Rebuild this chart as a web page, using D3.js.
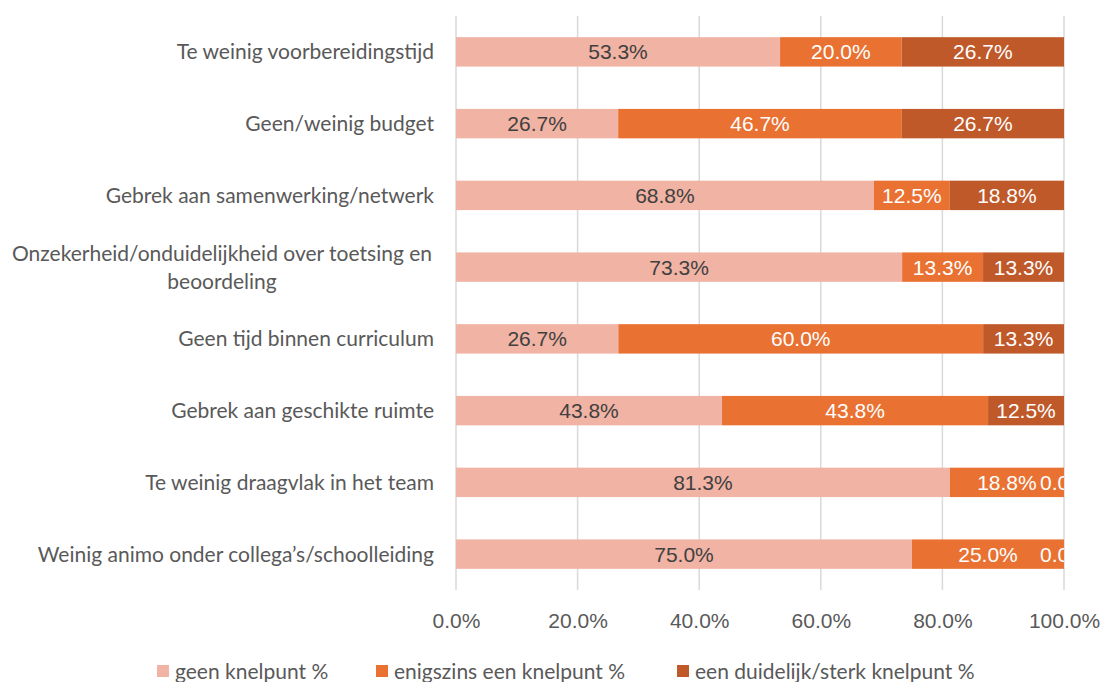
<!DOCTYPE html>
<html><head><meta charset="utf-8">
<script src="https://cdn.jsdelivr.net/npm/d3@7"></script>
<style>body{margin:0;background:#fff}svg{display:block}</style>
</head><body>
<svg id="c" width="1102" height="682"></svg>
<script>
const categories = [
  ["Te weinig voorbereidingstijd"],
  ["Geen/weinig budget"],
  ["Gebrek aan samenwerking/netwerk"],
  ["Onzekerheid/onduidelijkheid over toetsing en", "beoordeling"],
  ["Geen tijd binnen curriculum"],
  ["Gebrek aan geschikte ruimte"],
  ["Te weinig draagvlak in het team"],
  ["Weinig animo onder collega\u2019s/schoolleiding"]
];
const seriesNames = ["geen knelpunt %", "enigszins een knelpunt %", "een duidelijk/sterk knelpunt %"];
const geen      = [53.3, 26.7, 68.8, 73.3, 26.7, 43.8, 81.3, 75.0];
const enigszins = [20.0, 46.7, 12.5, 13.3, 60.0, 43.8, 18.8, 25.0];
const sterk     = [26.7, 26.7, 18.8, 13.3, 13.3, 12.5, 0.0, 0.0];
const tickValues = [0, 20, 40, 60, 80, 100];

const colors = ["#F1B3A4", "#E97132", "#C0592A"];
const labelColors = ["#404040", "#ffffff", "#ffffff"];
const font = "'Liberation Sans', Arial, sans-serif";
const catFont = "Lato, 'Open Sans', sans-serif";
const fs = 21;

const svg = d3.select("#c");
const margin = {left: 456, right: 38, top: 16, bottom: 92};
const W = 1102, H = 682;
const x = d3.scaleLinear().domain([0, 100]).range([margin.left, W - margin.right]);
const y = d3.scaleBand().domain(d3.range(categories.length)).range([margin.top, H - margin.bottom]).paddingInner(0.59).paddingOuter(0.295);

// gridlines
svg.append("g").selectAll("line").data(tickValues).join("line")
  .attr("x1", d => x(d)).attr("x2", d => x(d))
  .attr("y1", margin.top).attr("y2", H - margin.bottom)
  .attr("stroke", "#d9d9d9").attr("stroke-width", 1.5);

// x tick labels
const xAxis = d3.axisBottom(x).tickValues(tickValues).tickFormat(d => d.toFixed(1) + "%").tickSize(0).tickPadding(0);
const gx = svg.append("g").attr("transform", `translate(0,${H - margin.bottom + 30})`).call(xAxis);
gx.select(".domain").remove();
gx.selectAll("text").attr("font-family", font).attr("font-size", fs).attr("fill", "#595959").attr("y", 0).attr("dy", "0.36em");

// data rows
const rows = categories.map((c, i) => {
  const vals = [geen[i], enigszins[i], sterk[i]];
  const sum = d3.sum(vals);
  let acc = 0;
  return vals.map((v, k) => { const s = acc; acc += v; return {i, k, v, x0: s / sum * 100, x1: acc / sum * 100}; });
}).flat();

svg.append("defs").append("clipPath").attr("id", "plotclip")
  .append("rect").attr("x", margin.left).attr("y", 0).attr("width", x(100) - margin.left).attr("height", H);

svg.append("g").selectAll("rect").data(rows).join("rect")
  .attr("x", d => x(d.x0)).attr("width", d => x(d.x1) - x(d.x0))
  .attr("y", d => y(d.i)).attr("height", y.bandwidth())
  .attr("fill", d => colors[d.k]);

svg.append("g").attr("clip-path", "url(#plotclip)").selectAll("text").data(rows).join("text")
  .attr("x", d => (x(d.x0) + x(d.x1)) / 2)
  .attr("y", d => y(d.i) + y.bandwidth() / 2)
  .attr("dy", "0.36em").attr("text-anchor", "middle")
  .attr("font-family", font).attr("font-size", fs)
  .attr("fill", d => labelColors[d.k])
  .text(d => d.v.toFixed(1) + "%");

// category labels
const cg = svg.append("g");
categories.forEach((lines, i) => {
  const cy = y(i) + y.bandwidth() / 2;
  const t = cg.append("text")
    .attr("font-family", catFont).attr("font-size", fs).attr("fill", "#595959");
  const n = lines.length;
  lines.forEach((ln, j) => {
    t.append("tspan").attr("x", n > 1 ? 222 : 434).attr("text-anchor", n > 1 ? "middle" : "end")
      .attr("y", cy + (j - (n - 1) / 2) * 28).attr("dy", "0.36em").text(ln);
  });
});

// legend
const legX = [157, 376, 677];
const lg = svg.append("g");
seriesNames.forEach((s, k) => {
  lg.append("rect").attr("x", legX[k]).attr("y", 665).attr("width", 12).attr("height", 12).attr("fill", colors[k]);
  lg.append("text").attr("x", legX[k] + 18).attr("y", 671).attr("dy", "0.36em")
    .attr("font-family", catFont).attr("font-size", fs).attr("fill", "#595959").text(s);
});
</script>
</body></html>
